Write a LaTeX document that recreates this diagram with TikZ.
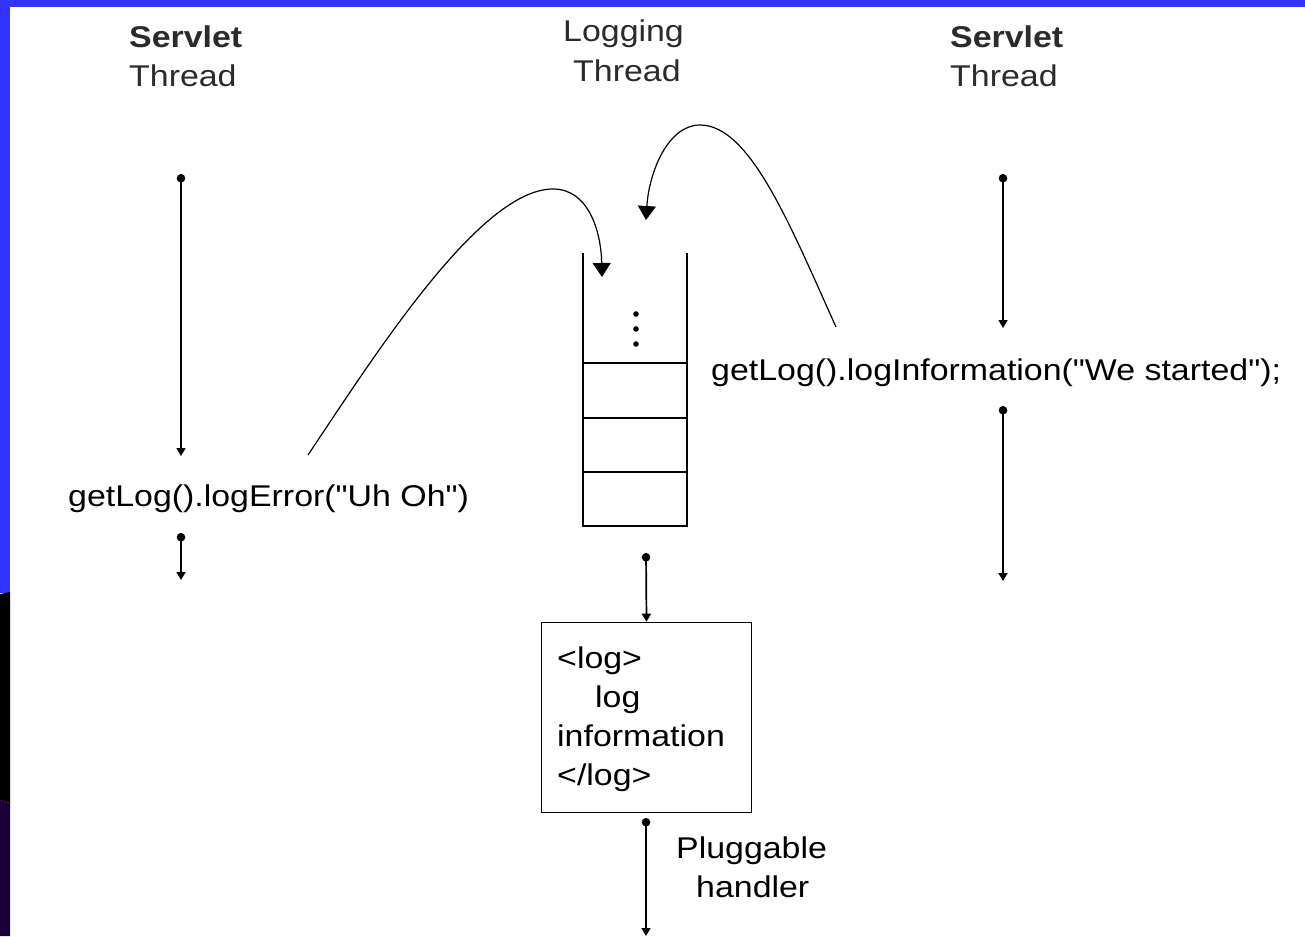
\documentclass[tikz,border=0pt]{standalone}
\usepackage{fontspec}
\setmainfont{Liberation Sans}[FakeStretch=1.13, Ligatures=TeXOff]
\usetikzlibrary{arrows.meta}
\definecolor{frameblue}{HTML}{3333FF}
\definecolor{framepurple}{HTML}{1A0036}
\definecolor{titlegray}{HTML}{2B2B2B}
\tikzset{
  txt/.style={anchor=base west, inner sep=0pt, font=\fontsize{30}{36}\selectfont},
  title/.style={txt, text=titlegray},
  flow/.style={line width=1.7pt, {Circle[length=8.5pt]}-{Triangle[width=9pt,length=8pt]}},
  push/.style={line width=1.2pt, -{Triangle[width=18pt,length=14pt]}},
  queueline/.style={line width=1.8pt},
  recordbox/.style={draw, line width=1.6pt, minimum width=210pt, minimum height=190pt, inner sep=0pt}
}
\begin{document}
\begin{tikzpicture}[x=1pt, y=-1pt]
% page frame
\fill[white] (0,0) rectangle (1305,936);
\useasboundingbox (0,0) rectangle (1305,936);
\fill[frameblue] (0,0) rectangle (1305,7);
\fill[frameblue] (0,0) rectangle (10,593);
\fill[black] (0,594) -- (10,592) -- (10,803) -- (0,800) -- cycle;
\fill[framepurple] (0,800) -- (10,803) -- (10,936) -- (0,936) -- cycle;

% column titles
\node[title, font=\fontsize{30}{36}\selectfont\bfseries] (lservlet) at (129,48) {Servlet};
\node[title] (lthread) at (129,87) {Thread};
\node[title] (logging) at (563,42) {Logging};
\node[title] (mthread) at (573,82) {Thread};
\node[title, font=\fontsize{30}{36}\selectfont\bfseries] (rservlet) at (950,48) {Servlet};
\node[title] (rthread) at (950,87) {Thread};

% calls
\node[txt] (errcall) at (68,506) {getLog().logError("Uh Oh")};
\node[txt] (infocall) at (711,380) {getLog().logInformation("We started");};

% left servlet thread
\coordinate (l1) at (181,174);
\coordinate (l2) at (181,456);
\coordinate (l3) at (181,533);
\coordinate (l4) at (181,580);
\draw[flow] (l1) -- (l2);
\draw[flow] (l3) -- (l4);

% right servlet thread
\coordinate (r1) at (1003,174);
\coordinate (r2) at (1003,328);
\coordinate (r3) at (1003,406);
\coordinate (r4) at (1003,581);
\draw[flow] (r1) -- (r2);
\draw[flow] (r3) -- (r4);

% message queue
\coordinate (qtl) at (583,253);
\coordinate (qtr) at (687,253);
\coordinate (qbl) at (583,526);
\coordinate (qbr) at (687,526);
\draw[queueline] (qtl) -- (qbl) -- (qbr) -- (qtr);
\foreach \yy in {363,418,472} \draw[queueline] (583,\yy) -- (687,\yy);
\foreach \yy in {314,329,344} \fill (636,\yy) circle (2.8pt);

% messages pushed onto the queue
\coordinate (errstart) at (308,455);
\coordinate (errtop) at (553,189);
\coordinate (errin) at (602,277);
\draw[push] (errstart) .. controls (375,355) and (480,189) .. (errtop)
            .. controls (588,189) and (601,230) .. (errin);
\coordinate (infostart) at (836,327);
\coordinate (infotop) at (700,125);
\coordinate (infoin) at (646,220);
\draw[push] (infostart) .. controls (790,225) and (750,125) .. (infotop)
            .. controls (668,125) and (649,172) .. (infoin);

% logging thread output
\node[recordbox] (record) at (646.5,717.5) {};
\coordinate (m1) at (646,553);
\draw[flow] (m1) -- (record.north);
\node[txt] (open) at (557,668) {<log>};
\node[txt] (body1) at (595,707) {log};
\node[txt] (body2) at (557,746) {information};
\node[txt] (close) at (557,785) {</log>};

\coordinate (h1) at (646,818);
\coordinate (h2) at (646,936);
\draw[flow] (h1) -- (h2);
\node[txt] (pluggable) at (676,858) {Pluggable};
\node[txt] (handler) at (696,897) {handler};
\end{tikzpicture}
\end{document}
